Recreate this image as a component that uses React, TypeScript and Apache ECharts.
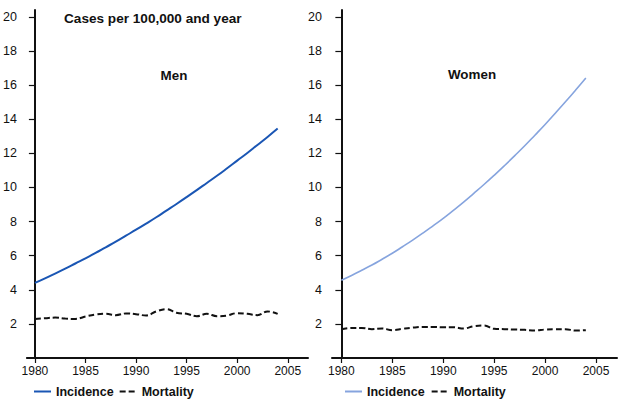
import React, { useEffect, useRef } from "react";
import * as echarts from "echarts";

const years = [1980, 1981, 1982, 1983, 1984, 1985, 1986, 1987, 1988, 1989, 1990, 1991, 1992, 1993, 1994, 1995, 1996, 1997, 1998, 1999, 2000, 2001, 2002, 2003, 2004];
const menIncidence = [4.4, 4.67, 4.95, 5.24, 5.54, 5.84, 6.16, 6.49, 6.82, 7.17, 7.52, 7.88, 8.25, 8.64, 9.03, 9.43, 9.84, 10.26, 10.68, 11.12, 11.57, 12.02, 12.49, 12.96, 13.45];
const menMortality = [2.29, 2.33, 2.37, 2.31, 2.29, 2.43, 2.55, 2.59, 2.51, 2.61, 2.57, 2.49, 2.73, 2.86, 2.65, 2.59, 2.45, 2.59, 2.45, 2.49, 2.63, 2.59, 2.51, 2.73, 2.59];
const womenIncidence = [4.56, 4.84, 5.14, 5.45, 5.79, 6.14, 6.52, 6.91, 7.32, 7.75, 8.19, 8.66, 9.14, 9.65, 10.17, 10.71, 11.27, 11.85, 12.44, 13.06, 13.69, 14.35, 15.02, 15.71, 16.42];
const womenMortality = [1.69, 1.76, 1.76, 1.69, 1.73, 1.63, 1.71, 1.78, 1.82, 1.82, 1.8, 1.8, 1.73, 1.86, 1.9, 1.71, 1.69, 1.67, 1.65, 1.61, 1.67, 1.69, 1.69, 1.61, 1.63];
const xTickYears = [1980, 1985, 1990, 1995, 2000, 2005];
const yTicks = [2, 4, 6, 8, 10, 12, 14, 16, 18, 20];
const panelTitles = ["Men", "Women"];
const legendNames = ["Incidence", "Mortality"];
const unitTitle = "Cases per 100,000 and year";

const BASE = 1980;
const FONT = '"Liberation Sans", Arial, Helvetica, sans-serif';

function pairs(vals: number[]) {
  return years.map((y, i) => [y - BASE, vals[i]]);
}

export default function App() {
  const ref = useRef<HTMLDivElement>(null);
  useEffect(() => {
    document.body.style.margin = "0";
    const chart = echarts.init(ref.current!, null, { renderer: "svg" });
    const xAxisCommon = (min: number, max: number, gridIndex: number) => ({
      type: "value",
      gridIndex,
      min,
      max,
      splitLine: { show: false },
      axisLine: { show: true, onZero: true, lineStyle: { color: "#111", width: 2 } },
      axisTick: {
        show: true,
        customValues: xTickYears.map((y) => y - BASE),
        length: 5,
        lineStyle: { color: "#111", width: 1.2 },
      },
      axisLabel: {
        customValues: xTickYears.map((y) => y - BASE),
        formatter: (v: number) => String(v + BASE),
        color: "#111",
        fontFamily: FONT,
        fontSize: 12,
        margin: 7,
      },
    });
    const yAxisCommon = (gridIndex: number) => ({
      type: "value",
      gridIndex,
      min: 0,
      max: 20.4,
      splitLine: { show: false },
      axisLine: { show: true, onZero: true, lineStyle: { color: "#111", width: 2 } },
      axisTick: {
        show: true,
        customValues: yTicks,
        length: 6,
        lineStyle: { color: "#111", width: 1.2 },
      },
      axisLabel: {
        customValues: yTicks,
        color: "#111",
        fontFamily: FONT,
        fontSize: 12.5,
        margin: 10,
      },
    });
    const legendCommon = (left: number, names: string[], itemGap: number) => ({
      left,
      top: 385,
      padding: 0,
      orient: "horizontal",
      itemWidth: 17,
      itemHeight: 12,
      itemGap,
      data: names,
      itemStyle: { opacity: 0 },
      formatter: (n: string) => n.replace(/^(Men|Women) /, ""),
      textStyle: { fontFamily: FONT, fontSize: 12.5, fontWeight: "bold", color: "#111" },
      selectedMode: false,
    });
    const mkName = (panel: string, s: string) => panel + " " + s;
    chart.setOption({
      animation: false,
      backgroundColor: "#fff",
      grid: [
        { left: 26, top: 10, width: 282, height: 348 },
        { left: 332, top: 10, width: 285, height: 348 },
      ],
      xAxis: [xAxisCommon(-0.79, 27.0, 0), xAxisCommon(-0.92, 27.06, 1)],
      yAxis: [yAxisCommon(0), yAxisCommon(1)],
      legend: [
        legendCommon(33, legendNames.map((n) => mkName(panelTitles[0], n)), 5),
        legendCommon(344, legendNames.map((n) => mkName(panelTitles[1], n)), 6),
      ],
      graphic: [
        {
          type: "text",
          left: 64,
          top: 11,
          style: { text: unitTitle, font: `bold 13.6px ${FONT}`, fill: "#111" },
        },
        {
          type: "text",
          x: 174,
          y: 75,
          style: { text: panelTitles[0], font: `bold 13.4px ${FONT}`, fill: "#111", align: "center", verticalAlign: "middle" },
        },
        {
          type: "text",
          x: 472,
          y: 74,
          style: { text: panelTitles[1], font: `bold 13.4px ${FONT}`, fill: "#111", align: "center", verticalAlign: "middle" },
        },
      ],
      series: [
        {
          name: mkName(panelTitles[0], legendNames[0]),
          type: "line",
          xAxisIndex: 0,
          yAxisIndex: 0,
          data: pairs(menIncidence),
          symbol: "none",
          smooth: true,
          lineStyle: { color: "#1a56b4", width: 2 },
          itemStyle: { color: "#1a56b4" },
        },
        {
          name: mkName(panelTitles[0], legendNames[1]),
          type: "line",
          xAxisIndex: 0,
          yAxisIndex: 0,
          data: pairs(menMortality),
          symbol: "none",
          smooth: 0.4,
          lineStyle: { color: "#111", width: 2, type: [6, 3] },
          itemStyle: { color: "#111" },
        },
        {
          name: mkName(panelTitles[1], legendNames[0]),
          type: "line",
          xAxisIndex: 1,
          yAxisIndex: 1,
          data: pairs(womenIncidence),
          symbol: "none",
          smooth: true,
          lineStyle: { color: "#86a4de", width: 1.6 },
          itemStyle: { color: "#86a4de" },
        },
        {
          name: mkName(panelTitles[1], legendNames[1]),
          type: "line",
          xAxisIndex: 1,
          yAxisIndex: 1,
          data: pairs(womenMortality),
          symbol: "none",
          smooth: 0.4,
          lineStyle: { color: "#111", width: 2, type: [6, 3] },
          itemStyle: { color: "#111" },
        },
      ],
    });
    return () => chart.dispose();
  }, []);
  return <div ref={ref} style={{ width: 633, height: 410 }} />;
}
